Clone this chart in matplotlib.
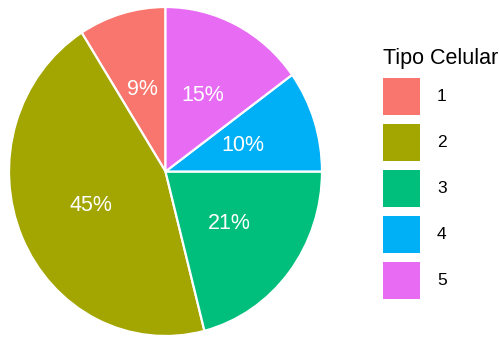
import matplotlib
matplotlib.use('Agg')
from matplotlib import pyplot as plt
from matplotlib.patches import Patch

plt.rcParams['font.family'] = ['Liberation Sans', 'DejaVu Sans']

tipos = ['1', '2', '3', '4', '5']
porcentajes = [9, 45, 21, 10, 15]
colores = ['#F8766D', '#A3A500', '#00BF7D', '#00B0F6', '#E76BF3']

fig = plt.figure(figsize=(4.99, 3.38), dpi=100)
ax = fig.add_axes([9 / 499, 2 / 338, 313 / 499, 329 / 338])

ax.pie(porcentajes, colors=colores, startangle=90, counterclock=True,
       autopct='%.0f%%', pctdistance=0.52,
       textprops={'color': 'white', 'fontsize': 15.5},
       wedgeprops={'edgecolor': 'white', 'linewidth': 1.6})
ax.set_aspect('auto')
ax.set_xlim(-1, 1)
ax.set_ylim(-1, 1)

handles = [Patch(facecolor=c, edgecolor='none') for c in colores]
fig.legend(handles, tipos, title='Tipo Celular', loc='upper left',
           bbox_to_anchor=(374.5 / 499, 1 - 39 / 338), frameon=False,
           fontsize=12.5, title_fontsize=15.5, borderpad=0,
           handlelength=2.1, handleheight=2.9, labelspacing=0.52,
           handletextpad=1.0, alignment='left')

plt.savefig('out.png', dpi=100)
